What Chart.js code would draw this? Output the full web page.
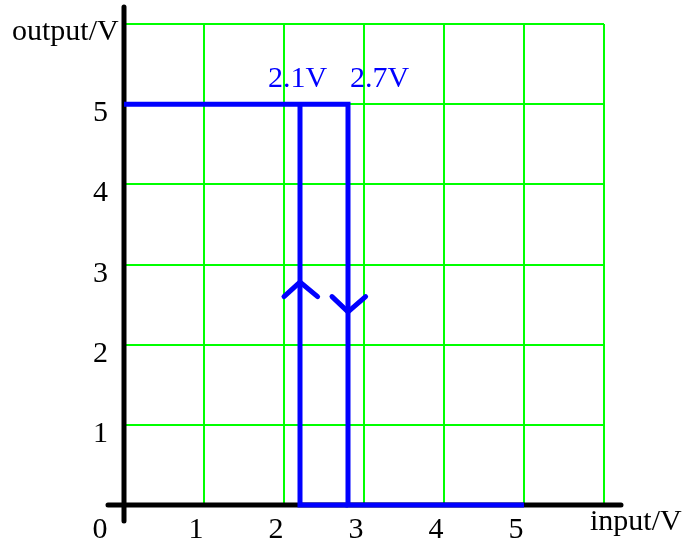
<!DOCTYPE html>
<html>
<head>
<meta charset="utf-8">
<script src="https://cdn.jsdelivr.net/npm/chart.js@4/dist/chart.umd.min.js"></script>
<style>
  html, body { margin: 0; padding: 0; background: #ffffff; }
  #wrap { width: 686px; height: 542px; }
</style>
</head>
<body>
<div id="wrap"><canvas id="c" width="686" height="542"></canvas></div>
<script>
// ---- data ----
const xTicks = [1, 2, 3, 4, 5];
const yTicks = [1, 2, 3, 4, 5];
const axisMin = 0;
const axisMax = 6;
// transfer curve (hysteresis loop)
const pathAX = [0, 2.8, 2.8, 5];
const pathAY = [5, 5, 0, 0];
const pathBX = [2.2, 2.2, 2.8];
const pathBY = [5, 0, 0];
// direction arrows
const upArrowX = [2.0, 2.2, 2.42];
const upArrowY = [2.6, 2.78, 2.6];
const downArrowX = [2.6, 2.8, 3.02];
const downArrowY = [2.6, 2.41, 2.6];
// threshold labels
const thresholdLabels = ['2.1V', '2.7V'];
const thresholdX = [2.2, 2.8];
const xTitle = 'input/V';
const yTitle = 'output/V';
const originLabel = '0';

const toPts = (xs, ys) => xs.map((x, i) => ({ x: x, y: ys[i] }));

const BLUE = '#0000ff';
const GREEN = '#00ff00';
const FONT = '30px "Liberation Serif", "Times New Roman", serif';

const decor = {
  id: 'decor',
  beforeDatasetsDraw(chart) {
    const ctx = chart.ctx;
    const xs = chart.scales.x, ys = chart.scales.y;
    const x0 = xs.getPixelForValue(0), y0 = ys.getPixelForValue(0);
    ctx.save();
    ctx.strokeStyle = '#000';
    ctx.lineWidth = 5;
    ctx.lineCap = 'round';
    ctx.beginPath();
    ctx.moveTo(x0, ys.getPixelForValue(axisMax) - 17);
    ctx.lineTo(x0, y0 + 16);
    ctx.moveTo(x0 - 16, y0);
    ctx.lineTo(xs.getPixelForValue(axisMax) + 17, y0);
    ctx.stroke();
    ctx.restore();
  },
  afterDatasetsDraw(chart) {
    const ctx = chart.ctx;
    const xs = chart.scales.x, ys = chart.scales.y;
    const x0 = xs.getPixelForValue(0), y0 = ys.getPixelForValue(0);
    ctx.save();
    ctx.font = FONT;
    ctx.fillStyle = '#000';
    ctx.textBaseline = 'alphabetic';
    // y tick labels
    ctx.textAlign = 'right';
    yTicks.forEach(v => ctx.fillText(String(v), x0 - 16, ys.getPixelForValue(v) + 17));
    // x tick labels
    ctx.textAlign = 'center';
    xTicks.forEach(v => ctx.fillText(String(v), xs.getPixelForValue(v) - 8, y0 + 33));
    ctx.fillText(originLabel, x0 - 24, y0 + 33);
    // axis titles
    ctx.textAlign = 'left';
    ctx.fillText(yTitle, 12, ys.getPixelForValue(axisMax) + 16);
    ctx.fillText(xTitle, xs.getPixelForValue(axisMax) - 14, y0 + 25);
    // threshold labels
    ctx.fillStyle = BLUE;
    ctx.fillText(thresholdLabels[0], xs.getPixelForValue(thresholdX[0]) - 32, ys.getPixelForValue(5) - 17);
    ctx.fillText(thresholdLabels[1], xs.getPixelForValue(thresholdX[1]) + 2, ys.getPixelForValue(5) - 17);
    ctx.restore();
  }
};

const lineDs = (pts, cap) => ({
  data: pts,
  showLine: true,
  borderColor: BLUE,
  backgroundColor: BLUE,
  borderWidth: 5,
  pointRadius: 0,
  borderCapStyle: cap,
  borderJoinStyle: 'miter',
  tension: 0,
  clip: false
});

new Chart(document.getElementById('c'), {
  type: 'scatter',
  data: {
    datasets: [
      lineDs(toPts(pathAX, pathAY), 'butt'),
      lineDs(toPts(pathBX, pathBY), 'butt'),
      lineDs(toPts(upArrowX, upArrowY), 'round'),
      lineDs(toPts(downArrowX, downArrowY), 'round')
    ]
  },
  options: {
    responsive: false,
    animation: false,
    devicePixelRatio: 1,
    layout: { padding: { left: 124, right: 82, top: 24, bottom: 37 } },
    plugins: { legend: { display: false }, tooltip: { enabled: false } },
    scales: {
      x: {
        type: 'linear', min: axisMin, max: axisMax,
        ticks: { display: false, stepSize: 1 },
        grid: { color: GREEN, lineWidth: 2, drawTicks: false },
        border: { display: false }
      },
      y: {
        type: 'linear', min: axisMin, max: axisMax,
        ticks: { display: false, stepSize: 1 },
        grid: { color: GREEN, lineWidth: 2, drawTicks: false },
        border: { display: false }
      }
    }
  },
  plugins: [decor]
});
</script>
</body>
</html>
